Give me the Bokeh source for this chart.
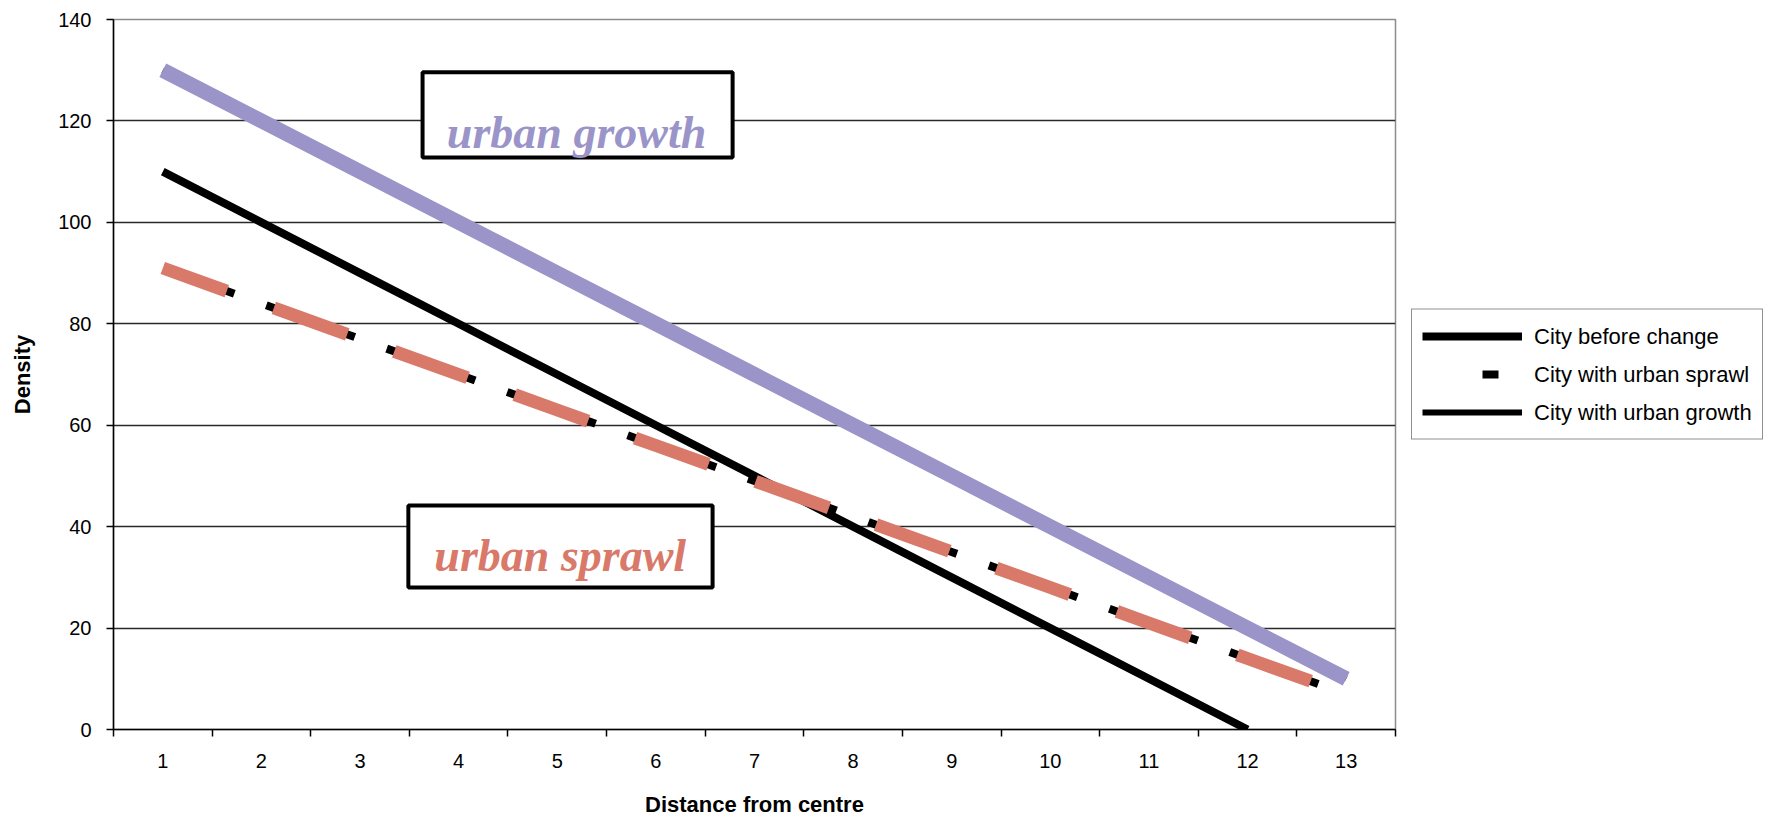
from bokeh.plotting import figure
from bokeh.models import Range1d, FixedTicker, Legend, LegendItem, BoxAnnotation, Label
from bokeh.embed import file_html
from bokeh.resources import INLINE

# Distance from the centre (categories 1..13)
distance = [1, 2, 3, 4, 5, 6, 7, 8, 9, 10, 11, 12, 13]

# Density profiles
before_change = [110, 100, 90, 80, 70, 60, 50, 40, 30, 20, 10, 0]          # distances 1..12
urban_sprawl = [91, 84, 77, 70, 63, 56, 49, 42, 35, 28, 21, 14, 7]          # distances 1..13
urban_growth = [130, 120, 110, 100, 90, 80, 70, 60, 50, 40, 30, 20, 10]     # distances 1..13

density_ticks = [0, 20, 40, 60, 80, 100, 120, 140]

GROWTH_COLOR = "#9B94C8"
SPRAWL_COLOR = "#D8796A"
FONT = "Liberation Sans"

p = figure(
    frame_width=1282, frame_height=710,
    x_range=Range1d(distance[0] - 0.5, distance[-1] + 0.5),
    y_range=Range1d(density_ticks[0], density_ticks[-1]),
    output_backend="svg", toolbar_location=None,
    min_border_left=113, min_border_right=0,
    min_border_top=19, min_border_bottom=92,
)
p.background_fill_color = "white"
p.border_fill_color = "white"
p.outline_line_color = "#8c8c8c"
p.outline_line_width = 1.5

# x axis: category labels at centres, tick marks on the category boundaries
p.xaxis.ticker = FixedTicker(ticks=distance,
                             minor_ticks=[d - 0.5 for d in distance] + [distance[-1] + 0.5])
p.xaxis.minor_tick_line_color = "black"
p.xaxis.minor_tick_line_width = 1.5
p.xaxis.minor_tick_out = 7
p.xaxis.minor_tick_in = 0
p.xaxis.axis_label = "Distance from centre"
p.xaxis.major_label_standoff = 17
p.xaxis.axis_label_standoff = 21

p.yaxis.ticker = FixedTicker(ticks=density_ticks)
p.yaxis.major_tick_out = 7
p.yaxis.major_tick_in = 0
p.yaxis.major_tick_line_width = 1.5
p.yaxis.minor_tick_line_color = None
p.yaxis.axis_label = "Density"
p.yaxis.major_label_standoff = 15
p.yaxis.axis_label_standoff = 20

for ax in (p.xaxis, p.yaxis):
    ax.axis_line_color = "black"
    ax.axis_line_width = 1.5
    ax.major_label_text_font = FONT
    ax.major_label_text_font_size = "20px"
    ax.major_label_text_color = "black"
    ax.axis_label_text_font = FONT
    ax.axis_label_text_font_size = "22px"
    ax.axis_label_text_font_style = "bold"
    ax.axis_label_text_color = "black"
p.xaxis.major_tick_line_color = None
p.yaxis.major_tick_line_color = "black"

p.xgrid.grid_line_color = None
p.ygrid.ticker = FixedTicker(ticks=density_ticks[1:-1])
p.ygrid.grid_line_color = "#2a2a2a"
p.ygrid.grid_line_width = 1.3

# Underlying series (black)
r_before = p.line(distance[:len(before_change)], before_change,
                  line_color="black", line_width=8)
r_sprawl = p.line(distance, urban_sprawl, line_color="black", line_width=8,
                  line_dash="16 62 16 34", line_dash_offset=18)
r_growth = p.line(distance, urban_growth, line_color="black", line_width=6)

# Coloured highlight strokes on top
p.line(distance, urban_sprawl, line_color=SPRAWL_COLOR, line_width=13,
       line_dash="78 50", line_dash_offset=10)
p.line(distance, urban_growth, line_color=GROWTH_COLOR, line_width=15)

# Callout boxes
p.add_layout(BoxAnnotation(left=3.634, right=6.778, bottom=112.8, top=129.6,
                           fill_color="white", fill_alpha=1.0,
                           line_color="black", line_alpha=1.0, line_width=4))
p.add_layout(Label(x=5.196, y=117.8, text="urban growth",
                   text_font="Liberation Serif", text_font_style="bold italic",
                   text_font_size="46px", text_color=GROWTH_COLOR,
                   text_align="center", text_baseline="alphabetic"))
p.add_layout(BoxAnnotation(left=3.49, right=6.575, bottom=28.0, top=44.18,
                           fill_color="white", fill_alpha=1.0,
                           line_color="black", line_alpha=1.0, line_width=4))
p.add_layout(Label(x=5.03, y=34.3, text="urban sprawl",
                   text_font="Liberation Serif", text_font_style="bold italic",
                   text_font_size="46px", text_color=SPRAWL_COLOR,
                   text_align="center", text_baseline="alphabetic"))

legend = Legend(items=[
    LegendItem(label="City before change", renderers=[r_before]),
    LegendItem(label="City with urban sprawl", renderers=[r_sprawl]),
    LegendItem(label="City with urban growth", renderers=[r_growth]),
], location="center_left")
legend.label_text_font = FONT
legend.label_text_font_size = "22px"
legend.label_text_color = "black"
legend.glyph_width = 100
legend.glyph_height = 33
legend.label_height = 33
legend.label_standoff = 12
legend.spacing = 5
legend.padding = 10
legend.margin = 16
legend.border_line_color = "#222222"
legend.border_line_width = 1.5
legend.background_fill_alpha = 1.0
p.add_layout(legend, "right")

open("out.html", "w").write(file_html(p, INLINE))
